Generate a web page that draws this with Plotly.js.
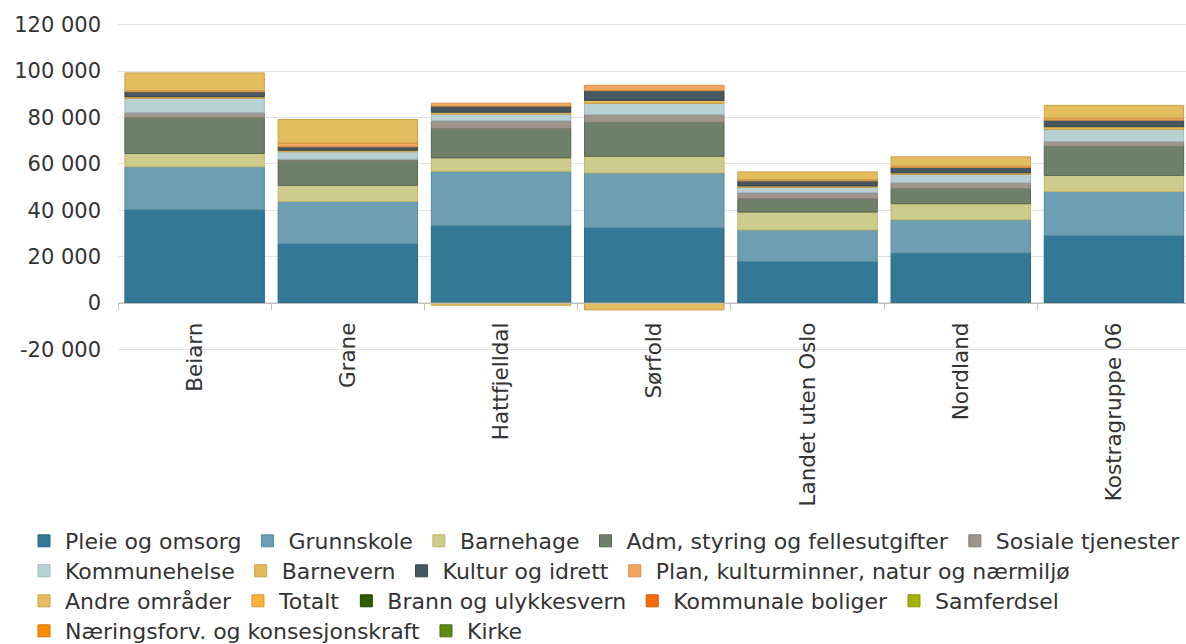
<!DOCTYPE html>
<html>
<head>
<meta charset="utf-8">
<script src="https://cdn.plot.ly/plotly-3.0.1.min.js"></script>
<style>
html,body{margin:0;padding:0;background:#fff;}
#chart{width:1186px;height:644px;}
</style>
</head>
<body>
<div id="chart"></div>
<script>
var categories = ['Beiarn', 'Grane', 'Hattfjelldal', 'Sørfold', 'Landet uten Oslo', 'Nordland', 'Kostragruppe 06'];

var seriesNames = ['Pleie og omsorg', 'Grunnskole', 'Barnehage', 'Adm, styring og fellesutgifter', 'Sosiale tjenester',
  'Kommunehelse', 'Barnevern', 'Kultur og idrett', 'Plan, kulturminner, natur og nærmiljø',
  'Andre områder', 'Totalt', 'Brann og ulykkesvern', 'Kommunale boliger', 'Samferdsel',
  'Næringsforv. og konsesjonskraft', 'Kirke'];

// legend row (1-4) each series is listed in
var legendRows = [1, 1, 1, 1, 1, 2, 2, 2, 2, 3, 3, 3, 3, 3, 4, 4];

var pleieOgOmsorg   = [40300, 25500, 33400, 32400, 17900, 21500, 29100];
var grunnskole      = [18400, 18300, 23350, 23650, 13600, 14400, 19000];
var barnehage       = [5750, 6900, 5800, 7200, 7700, 6900, 6900];
var adm             = [15400, 10800, 12700, 14600, 5800, 6500, 12500];
var sosiale         = [2200, 500, 3300, 3400, 2600, 2500, 2200];
var kommunehelse    = [6200, 3200, 2900, 4800, 2200, 3600, 5100];
var barnevern       = [700, 650, 800, 1300, 650, 700, 1200];
var kultur          = [2100, 1450, 2600, 4200, 2200, 2300, 2800];
var plan            = [500, 1700, 1300, 2300, 550, 700, 900];
var andreOmrader    = [7650, 10100, -1000, -3000, 3300, 3900, 5500];
var totalt          = [null, null, null, null, null, null, null];
var brann           = [null, null, null, null, null, null, null];
var kommunaleBoliger= [null, null, null, null, null, null, null];
var samferdsel      = [null, null, null, null, null, null, null];
var naeringsforv    = [null, null, null, null, null, null, null];
var kirke           = [null, null, null, null, null, null, null];

var yTickVals   = [-20000, 0, 20000, 40000, 60000, 80000, 100000, 120000];
var yTickLabels = ['-20 000', '0', '20 000', '40 000', '60 000', '80 000', '100 000', '120 000'];

var seriesValues = [pleieOgOmsorg, grunnskole, barnehage, adm, sosiale, kommunehelse, barnevern,
  kultur, plan, andreOmrader, totalt, brann, kommunaleBoliger, samferdsel, naeringsforv, kirke];

var fillColors = ['#337896', '#6c9fb3', '#cdcc8c', '#6e8069', '#9e958c', '#b8d1d5', '#e3bb5c',
  '#47575f', '#f2a65e', '#e3bd5e', '#fbb03b', '#2e5b04', '#f56a0a', '#a4b300', '#ff8c00', '#5f8a14'];
var lineColors = ['#2a6680', '#5a8a9c', '#c4b466', '#56654f', '#857c73', '#9fb9bd', '#c9a043',
  '#36444a', '#d98c45', '#c9a244', '#d9952a', '#244703', '#d05a08', '#8a9700', '#d97700', '#4d7010'];

var legendIds = ['legend', 'legend', 'legend2', 'legend3', 'legend4'];

var traces = seriesNames.map(function (name, i) {
  return {
    type: 'bar',
    name: name,
    x: categories,
    y: seriesValues[i],
    legend: legendIds[legendRows[i]],
    marker: { color: fillColors[i], line: { color: lineColors[i], width: 1 } },
    hoverinfo: 'x+y+name'
  };
});

var yMin = -22000, yMax = 122000;
var marginL = 118, marginT = 20, plotH = 334, plotW = 1068;
var fontFam = 'DejaVu Sans, Arial, sans-serif';

function legendAt(rowTopPx) {
  return {
    orientation: 'h',
    traceorder: 'normal',
    xref: 'paper',
    yref: 'paper',
    x: (23 - marginL) / plotW,
    xanchor: 'left',
    y: (marginT + plotH - rowTopPx) / plotH,
    yanchor: 'top',
    itemwidth: 32,
    bgcolor: 'rgba(0,0,0,0)',
    borderwidth: 0,
    font: { family: fontFam, size: 22, color: '#333333' },
    itemclick: false,
    itemdoubleclick: false
  };
}

var layout = {
  width: 1186,
  height: 644,
  margin: { l: marginL, r: 0, t: marginT, b: 644 - marginT - plotH, autoexpand: false },
  paper_bgcolor: '#ffffff',
  plot_bgcolor: '#ffffff',
  barmode: 'relative',
  bargap: 0.09,
  font: { family: fontFam, color: '#333333', size: 21 },
  showlegend: true,
  xaxis: {
    type: 'category',
    range: [-0.5, 6.47],
    anchor: 'free',
    position: (0 - yMin) / (yMax - yMin),
    showline: true,
    linecolor: '#c0c0c0',
    linewidth: 1,
    ticks: 'outside',
    tickson: 'boundaries',
    ticklen: 6,
    tickcolor: '#c0c0c0',
    tickangle: -90,
    ticklabelstandoff: 10,
    tickfont: { family: fontFam, size: 21.5, color: '#333333' },
    showgrid: false,
    automargin: false,
    fixedrange: true
  },
  yaxis: {
    range: [yMin, yMax],
    tickvals: yTickVals,
    ticktext: yTickLabels,
    showgrid: true,
    gridcolor: '#e3e3e3',
    gridwidth: 1,
    zeroline: false,
    showline: false,
    ticks: '',
    ticklabelstandoff: 16,
    tickfont: { family: fontFam, size: 21, color: '#333333' },
    automargin: false,
    fixedrange: true
  },
  legend: legendAt(520),
  legend2: legendAt(550),
  legend3: legendAt(580),
  legend4: legendAt(610)
};

Plotly.newPlot('chart', traces, layout, { displayModeBar: false, staticPlot: true });
</script>
</body>
</html>
